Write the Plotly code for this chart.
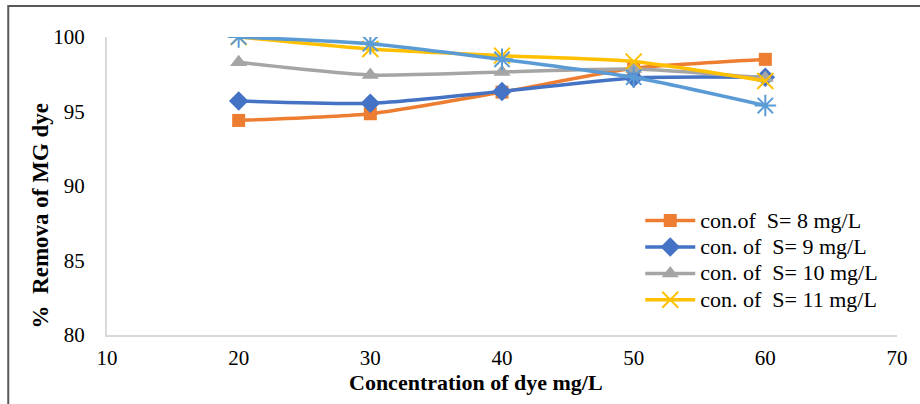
import plotly.graph_objects as go

conc = [20, 30, 40, 50, 60]
s8 = [94.4, 94.85, 96.3, 97.9, 98.5]
s9 = [95.7, 95.55, 96.35, 97.25, 97.3]
s10 = [98.3, 97.45, 97.65, 97.85, 97.25]
s11 = [100.0, 99.2, 98.75, 98.35, 97.05]
s12 = [100.0, 99.55, 98.5, 97.3, 95.4]

names = ["con.of  S= 8 mg/L", "con. of  S= 9 mg/L", "con. of  S= 10 mg/L", "con. of  S= 11 mg/L", ""]
colors = ["#ED7D31", "#4472C4", "#A5A5A5", "#FFC000", "#5B9BD5"]
symbols = ["square", "diamond", "triangle-up", "x-thin-open", "asterisk-open"]
sizes = [13, 15, 15, 16, 18]
series = [s8, s9, s10, s11, s12]

fig = go.Figure()
for i, ys in enumerate(series):
    open_sym = symbols[i].endswith("open")
    fig.add_trace(go.Scatter(
        x=conc, y=ys, mode="lines+markers",
        name='<span style="font-size:22px">' + names[i] + '</span>',
        showlegend=(i < 4),
        line=dict(color=colors[i], width=3.5, shape="spline", smoothing=0.6),
        marker=dict(symbol=symbols[i], size=sizes[i], color=colors[i],
                    line=dict(color=colors[i], width=2 if open_sym else 0)),
    ))

font_serif = "Liberation Serif, Times New Roman, serif"
fig.update_layout(
    width=920, height=404,
    margin=dict(l=107, r=15, t=37, b=69),
    paper_bgcolor="white", plot_bgcolor="white",
    font=dict(family=font_serif, size=21, color="#000000"),
    xaxis=dict(range=[10, 70], tickvals=[10, 20, 30, 40, 50, 60, 70],
               showgrid=False, zeroline=False, showline=True,
               linecolor="#D9D9D9", linewidth=2, ticks="",
               ticklabelstandoff=3,
               tickfont=dict(size=21)),
    yaxis=dict(range=[80, 100], tickvals=[80, 85, 90, 95, 100],
               showgrid=False, zeroline=False, showline=True,
               linecolor="#D9D9D9", linewidth=2, ticks="",
               ticklabelstandoff=16,
               tickfont=dict(size=21)),
    legend=dict(x=0.675, y=0.445, xanchor="left", yanchor="top",
                bgcolor="rgba(255,255,255,0)", font=dict(size=18),
                tracegroupgap=0, itemwidth=50),
    annotations=[
        dict(text="<b>Concentration of dye mg/L</b>", xref="paper", yref="paper",
             x=0.4675, y=-0.161, xanchor="center", yanchor="middle",
             showarrow=False, font=dict(size=22)),
        dict(text="<b>%  Remova of MG dye</b>", xref="paper", yref="paper",
             x=-0.084, y=0.40, xanchor="center", yanchor="middle", textangle=-90,
             showarrow=False, font=dict(size=23)),
    ],
    shapes=[dict(type="rect", xref="paper", yref="paper",
                 x0=-0.125, x1=1.2, y0=-0.5, y1=1.104,
                 line=dict(color="#595959", width=2), layer="below")],
)

fig.write_html("out.html")
